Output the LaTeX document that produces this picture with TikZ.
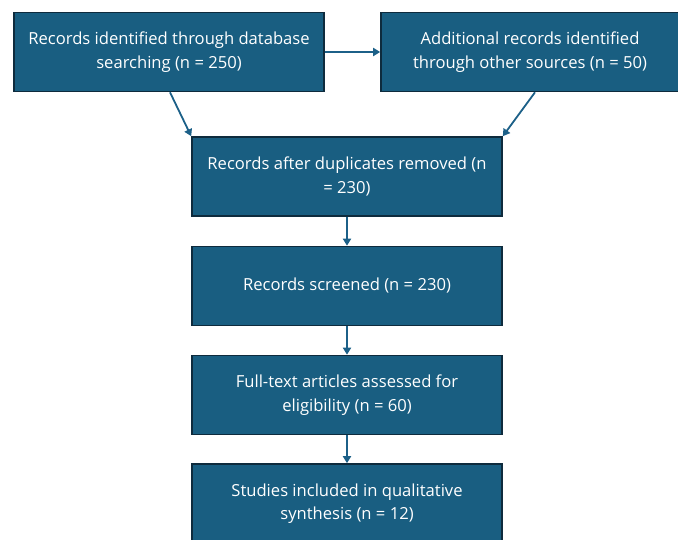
\documentclass[tikz,border=0pt]{standalone}
\usepackage{fontspec}
\setmainfont{Open Sans}
\usetikzlibrary{arrows.meta}
\definecolor{boxfill}{HTML}{195E81}
\definecolor{boxline}{HTML}{0E2B3D}
\definecolor{flowline}{HTML}{1C6088}
\tikzset{
  stage/.style={draw=boxline, line width=1.6pt, fill=boxfill, text=white,
    font=\fontsize{16.6}{23.5}\selectfont, align=center, inner sep=0pt,
    minimum width=310pt, minimum height=79pt},
  flow/.style={draw=flowline, line width=1.8pt, -{Triangle[length=7pt,width=8pt]}}
}
\begin{document}
\begin{tikzpicture}[x=1pt,y=-1pt]
    \clip (0,0) rectangle (678,540);

    % Identification
    \node[stage] (dbsearch) at (169,52) {Records identified through database\\searching (n = 250)};
    \node[stage, minimum width=298pt] (othersrc) at (530,52) {Additional records identified\\through other sources (n = 50)};

    % Screening and inclusion
    \node[stage] (dedup) at (347,176.5) {Records after duplicates removed (n\\= 230)};
    \node[stage] (screened) at (347,286) {Records screened (n = 230)};
    \node[stage] (fulltext) at (347,395) {Full-text articles assessed for\\eligibility (n = 60)};
    \node[stage] (included) at (347,503.5) {Studies included in qualitative\\synthesis (n = 12)};

    \draw[flow] (dbsearch.east) -- (othersrc.west);
    \draw[flow] ([xshift=1pt]dbsearch.south) -- (dedup.north west);
    \draw[flow] ([xshift=5pt]othersrc.south) -- (dedup.north east);
    \draw[flow] (dedup) -- (screened);
    \draw[flow] (screened) -- (fulltext);
    \draw[flow] (fulltext) -- (included);

\end{tikzpicture}
\end{document}
